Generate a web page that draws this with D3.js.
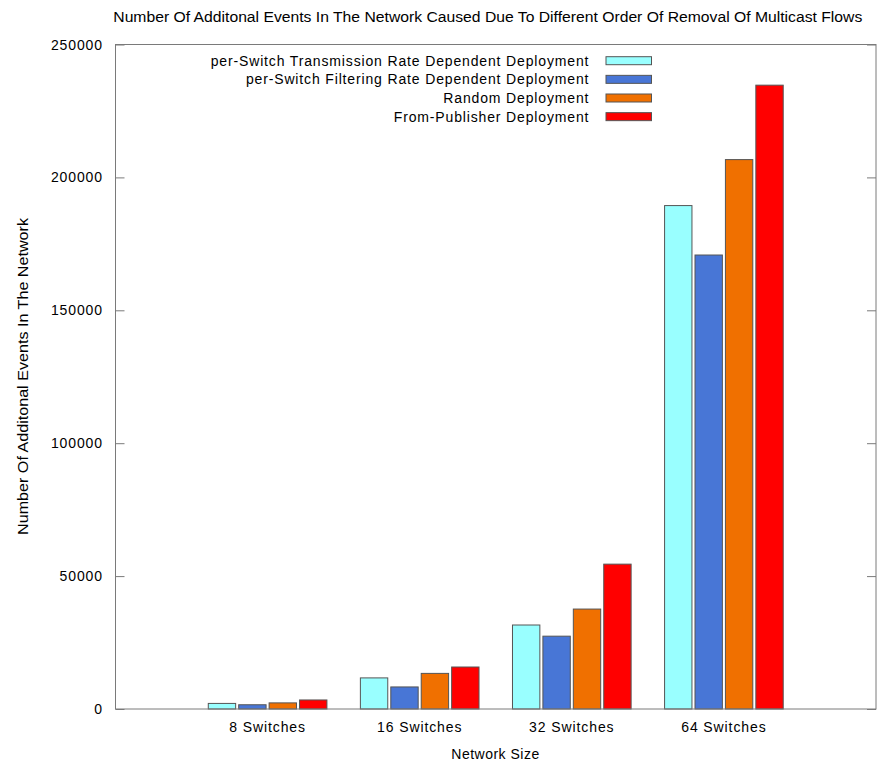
<!DOCTYPE html>
<html>
<head>
<meta charset="utf-8">
<script src="https://cdn.jsdelivr.net/npm/d3@7"></script>
<style>
  html, body { margin: 0; padding: 0; background: #fff; }
  svg { display: block; font-family: "Liberation Sans", Arial, Helvetica, sans-serif; }
</style>
</head>
<body>
<svg id="chart" width="880" height="763"></svg>
<script>
// Clustered histogram: additional events per network size and deployment order
const categories = ["8 Switches", "16 Switches", "32 Switches", "64 Switches"];
const seriesNames = [
  "per-Switch Transmission Rate Dependent Deployment",
  "per-Switch Filtering Rate Dependent Deployment",
  "Random Deployment",
  "From-Publisher Deployment"
];
const transmissionRate = [2100, 11700, 31600, 189400];
const filteringRate    = [1600, 8300, 27400, 170800];
const randomDeploy     = [2300, 13400, 37600, 206700];
const fromPublisher    = [3400, 15800, 54500, 234700];
const yTicks = [0, 50000, 100000, 150000, 200000, 250000];
const seriesColors = ["#99ffff", "#4876d6", "#f07000", "#ff0000"];

const seriesValues = [transmissionRate, filteringRate, randomDeploy, fromPublisher];

const svg = d3.select("#chart");
const plot = { left: 115.5, right: 876, top: 44.5, bottom: 709 };

// gnuplot-style x range: one unit per cluster, from -1 to 4
const x = d3.scaleLinear().domain([-1, 4]).range([plot.left, plot.right]);
const y = d3.scaleLinear().domain([0, 250000]).range([plot.bottom, plot.top]);

const frameColor = "#7a7a7a";
const barSlot = 0.2;      // 1 / (series + gap)
const barWidth = 0.18;

// bars
const bars = svg.append("g");
categories.forEach((cat, i) => {
  seriesValues.forEach((vals, k) => {
    const cx = i + (k - 1.5) * barSlot;
    const x0 = x(cx - barWidth / 2), x1 = x(cx + barWidth / 2);
    bars.append("rect")
      .attr("x", x0)
      .attr("y", y(vals[i]))
      .attr("width", x1 - x0)
      .attr("height", y(0) - y(vals[i]))
      .attr("fill", seriesColors[k])
      .attr("stroke", "#555")
      .attr("stroke-width", 1);
  });
});

// frame
svg.append("rect")
  .attr("x", plot.left).attr("y", plot.top)
  .attr("width", plot.right - plot.left).attr("height", plot.bottom - plot.top)
  .attr("fill", "none").attr("stroke", frameColor).attr("stroke-width", 1);

// y axis: inward ticks on the left, mirrored on the right
const yAxisLeft = d3.axisRight(y).tickValues(yTicks).tickSize(9).tickFormat("");
const gl = svg.append("g").attr("transform", `translate(${plot.left},0)`).call(yAxisLeft);
gl.select(".domain").remove();
gl.selectAll("line").attr("stroke", frameColor);

const yAxisRight = d3.axisLeft(y).tickValues(yTicks).tickSize(9).tickFormat("");
const gr = svg.append("g").attr("transform", `translate(${plot.right},0)`).call(yAxisRight);
gr.select(".domain").remove();
gr.selectAll("line").attr("stroke", frameColor);

// y tick labels
svg.append("g").selectAll("text")
  .data(yTicks).join("text")
  .attr("x", 103)
  .attr("y", d => y(d))
  .attr("dy", "0.36em")
  .attr("text-anchor", "end")
  .attr("font-size", 14)
  .attr("letter-spacing", 0.9)
  .attr("fill", "#000")
  .text(d => d);

// x tick labels
svg.append("g").selectAll("text")
  .data(categories).join("text")
  .attr("x", (d, i) => x(i))
  .attr("y", 732.3)
  .attr("text-anchor", "middle")
  .attr("font-size", 14)
  .attr("letter-spacing", 0.9)
  .attr("fill", "#000")
  .text(d => d);

// axis titles
svg.append("text")
  .attr("x", 495.5).attr("y", 759.3)
  .attr("text-anchor", "middle")
  .attr("font-size", 14)
  .attr("letter-spacing", 0.5)
  .text("Network Size");

svg.append("text")
  .attr("transform", "translate(27.5,376.5) rotate(-90)")
  .attr("text-anchor", "middle")
  .attr("font-size", 14)
  .attr("textLength", 317)
  .attr("lengthAdjust", "spacingAndGlyphs")
  .text("Number Of Additonal Events In The Network");

// chart title
svg.append("text")
  .attr("x", 113.3).attr("y", 22.3)
  .attr("font-size", 14)
  .attr("textLength", 749)
  .attr("lengthAdjust", "spacingAndGlyphs")
  .text("Number Of Additonal Events In The Network Caused Due To Different Order Of Removal Of Multicast Flows");

// legend
const legend = svg.append("g");
seriesNames.forEach((name, k) => {
  const cy = 60.7 + k * 18.65;
  legend.append("text")
    .attr("x", 589.3).attr("y", cy)
    .attr("dy", "0.35em")
    .attr("text-anchor", "end")
    .attr("font-size", 14)
    .attr("letter-spacing", 0.85)
    .text(name);
  legend.append("rect")
    .attr("x", 606).attr("y", cy - 4)
    .attr("width", 45.5).attr("height", 8)
    .attr("fill", seriesColors[k])
    .attr("stroke", "#555").attr("stroke-width", 1);
});
</script>
</body>
</html>
